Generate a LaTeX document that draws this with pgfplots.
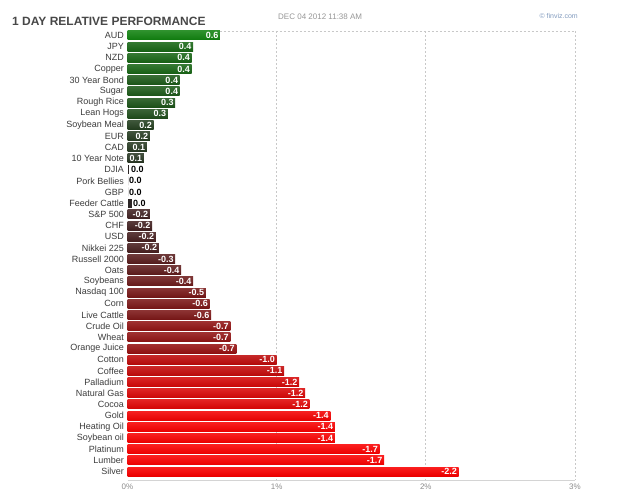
\documentclass[border=0pt]{standalone}
\usepackage{fontspec}
\setmainfont{Liberation Sans}
\usepackage{pgfplots}
\pgfplotsset{compat=1.18}
\definecolor{fvgreen}{RGB}{10,150,10}
\definecolor{fvred}{RGB}{250,0,0}
\definecolor{fvzero}{RGB}{44,38,38}
\definecolor{gridgray}{RGB}{200,200,200}
\definecolor{axgray}{RGB}{212,212,212}
\definecolor{labgray}{RGB}{60,60,60}
\definecolor{tickgray}{RGB}{140,140,140}
\definecolor{titlegray}{RGB}{72,72,72}
\definecolor{dategray}{RGB}{150,150,150}
\definecolor{fvblue}{RGB}{130,155,190}
% #1 index, #2 bar length, #3 sign, #4 label
\newcommand{\fvbar}[4]{%
  \ifnum#3<0
    \pgfmathtruncatemacro\fvt{min(#2/1.4,1)*100}%
    \colorlet{bc#1}{fvred!\fvt!fvzero}%
  \else
    \pgfmathtruncatemacro\fvt{min(#2/0.75,1)*100}%
    \colorlet{bc#1}{fvgreen!\fvt!fvzero}%
  \fi
  \addplot[xbar, bar width=9pt, draw=none, top color=bc#1!88!white, bottom color=bc#1!94!black,
    nodes near coords={#4}, nodes near coords align={anchor=east},
    every node near coord/.append style={text=white, xshift=-1.5pt}]
    coordinates {(#2,#1)};
}
% near-zero bars: label outside in black
\newcommand{\fvzbar}[3]{%
  \addplot[xbar, bar width=9pt, draw=none, fill=fvzero,
    nodes near coords={#3}, nodes near coords align={anchor=west},
    every node near coord/.append style={text=black, xshift=1.5pt}]
    coordinates {(#2,#1)};
}
\begin{document}
\begin{tikzpicture}
\path[use as bounding box] (0,0) rectangle (625pt,-502pt);
\node[anchor=base west, inner sep=0pt, text=titlegray, font=\bfseries\fontsize{12}{12}\selectfont] at (12pt,-26pt) {1 DAY RELATIVE PERFORMANCE};
\node[anchor=base west, inner sep=0pt, text=dategray, font=\fontsize{8}{8}\selectfont] at (278pt,-20pt) {DEC 04 2012 11:38 AM};
\node[anchor=base east, inner sep=0pt, text=fvblue, font=\fontsize{7}{7}\selectfont] at (578pt,-19pt) {© finviz.com};
\begin{axis}[
  at={(127.5pt,-480pt)}, anchor=south west,
  scale only axis, width=447.5pt, height=449pt,
  xmin=0, xmax=3, ymin=-0.4, ymax=39.76,
  y dir=reverse,
  clip=false,
  axis line style={draw=none},
  major tick length=0pt,
  xtick={0,1,2,3}, xticklabels={0\%,1\%,2\%,3\%},
  extra x ticks={1,2,3}, extra x tick labels={},
  extra x tick style={xmajorgrids=true, major grid style={color=gridgray, line width=0.8pt, dash pattern=on 2pt off 2pt}},
  xticklabel style={text=tickgray, font=\fontsize{8}{8}\selectfont, inner sep=0pt, yshift=-4pt},
  ytick={0,...,39},
  yticklabels={AUD,JPY,NZD,Copper,30 Year Bond,Sugar,Rough Rice,Lean Hogs,Soybean Meal,EUR,CAD,10 Year Note,DJIA,Pork Bellies,GBP,Feeder Cattle,S\&P 500,CHF,USD,Nikkei 225,Russell 2000,Oats,Soybeans,Nasdaq 100,Corn,Live Cattle,Crude Oil,Wheat,Orange Juice,Cotton,Coffee,Palladium,Natural Gas,Cocoa,Gold,Heating Oil,Soybean oil,Platinum,Lumber,Silver},
  yticklabel style={text=labgray, font=\fontsize{9}{9}\selectfont, inner sep=0pt, xshift=-3.5pt},
  every node near coord/.style={font=\bfseries\fontsize{9}{9}\selectfont, inner sep=0pt},
]
\draw[color=gridgray, line width=0.8pt, dash pattern=on 2pt off 2pt] (axis cs:0,-0.4) -- (axis cs:3,-0.4);
\draw[color=axgray, line width=1pt] (axis cs:0,39.76) -- (axis cs:3,39.76);
\fvbar{0}{0.62}{1}{0.6}
\fvbar{1}{0.44}{1}{0.4}
\fvbar{2}{0.43}{1}{0.4}
\fvbar{3}{0.43}{1}{0.4}
\fvbar{4}{0.35}{1}{0.4}
\fvbar{5}{0.35}{1}{0.4}
\fvbar{6}{0.32}{1}{0.3}
\fvbar{7}{0.27}{1}{0.3}
\fvbar{8}{0.175}{1}{0.2}
\fvbar{9}{0.15}{1}{0.2}
\fvbar{10}{0.13}{1}{0.1}
\fvbar{11}{0.11}{1}{0.1}
\fvzbar{12}{0.013}{0.0}
\fvzbar{13}{0}{0.0}
\fvzbar{14}{0}{0.0}
\fvzbar{15}{0.027}{0.0}
\fvbar{16}{0.15}{-1}{-0.2}
\fvbar{17}{0.165}{-1}{-0.2}
\fvbar{18}{0.19}{-1}{-0.2}
\fvbar{19}{0.21}{-1}{-0.2}
\fvbar{20}{0.32}{-1}{-0.3}
\fvbar{21}{0.36}{-1}{-0.4}
\fvbar{22}{0.44}{-1}{-0.4}
\fvbar{23}{0.525}{-1}{-0.5}
\fvbar{24}{0.55}{-1}{-0.6}
\fvbar{25}{0.56}{-1}{-0.6}
\fvbar{26}{0.69}{-1}{-0.7}
\fvbar{27}{0.69}{-1}{-0.7}
\fvbar{28}{0.73}{-1}{-0.7}
\fvbar{29}{1.0}{-1}{-1.0}
\fvbar{30}{1.05}{-1}{-1.1}
\fvbar{31}{1.15}{-1}{-1.2}
\fvbar{32}{1.19}{-1}{-1.2}
\fvbar{33}{1.22}{-1}{-1.2}
\fvbar{34}{1.36}{-1}{-1.4}
\fvbar{35}{1.39}{-1}{-1.4}
\fvbar{36}{1.39}{-1}{-1.4}
\fvbar{37}{1.69}{-1}{-1.7}
\fvbar{38}{1.72}{-1}{-1.7}
\fvbar{39}{2.22}{-1}{-2.2}
\end{axis}
\end{tikzpicture}
\end{document}
